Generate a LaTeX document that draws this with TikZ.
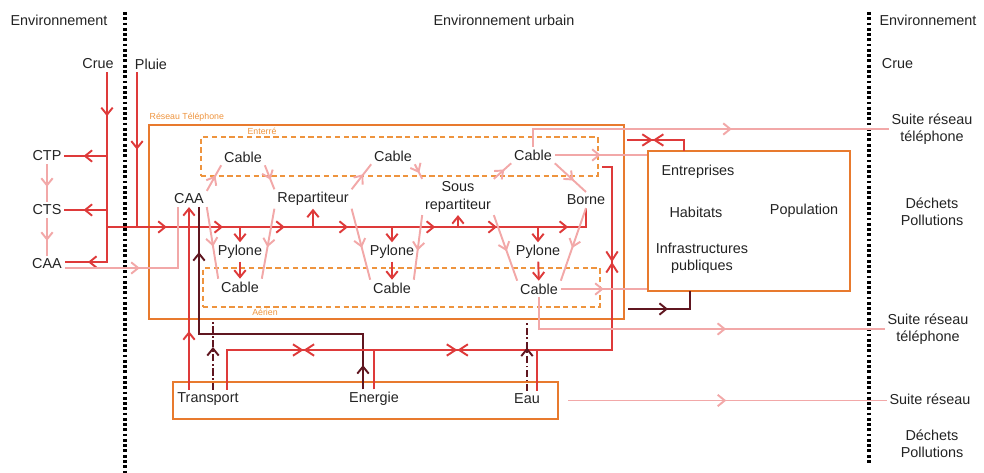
\documentclass[tikz,border=0pt]{standalone}
\usepackage{fontspec}
\setmainfont{Liberation Sans}
\usetikzlibrary{arrows.meta,decorations.markings,fit}
\definecolor{rouge}{RGB}{222,58,58}
\definecolor{rose}{RGB}{242,168,168}
\definecolor{orangebox}{RGB}{232,122,46}
\definecolor{orangedash}{RGB}{238,148,62}
\definecolor{brun}{RGB}{96,22,32}
\definecolor{gristexte}{RGB}{35,35,35}

\begin{document}
\begin{tikzpicture}[
    x=0.02cm, y=-0.02cm,
    txt/.style={font=\fontsize{8.2}{9.8}\selectfont, text=gristexte, inner sep=1.5pt, align=center},
    petit/.style={font=\fontsize{5}{6}\selectfont, text=orangedash, inner sep=1pt},
    boite/.style={draw=orangebox, line width=1.6pt, inner sep=0pt},
    boitetir/.style={draw=orangedash, line width=1.4pt, dash pattern=on 3pt off 2pt, inner sep=0pt},
    lr/.style={draw=rouge, line width=1.1pt},
    lp/.style={draw=rose, line width=1.1pt},
    lb/.style={draw=brun, line width=1.1pt},
    lbd/.style={draw=brun, line width=1.1pt, dash pattern=on 4pt off 1.5pt on 1pt off 1.5pt},
    pointille/.style={line width=1.8pt, dash pattern=on 1.6pt off 1.4pt},
    fl/.style={postaction={decorate, decoration={markings,
        mark=at position #1 with {\arrow{Straight Barb[length=4pt,width=6.5pt]}}}}},
    xx/.style={postaction={decorate, decoration={markings,
        mark=at position #1 with {\arrow{Straight Barb[length=5pt,width=6.5pt]}\arrowreversed{Straight Barb[length=5pt,width=6.5pt]}}}}},
    bout/.style={-{Straight Barb[length=4pt,width=6.5pt]}}
]
\useasboundingbox (0,0) rectangle (984,473);

\node[txt] (envg) at (59,20) {Environnement};
\node[txt] (envu) at (504,20) {Environnement urbain};
\node[txt] (envd) at (928,20) {Environnement};
\draw[pointille] (125,12) -- (125,473);
\draw[pointille] (869,12) -- (869,464);

\node[txt] (crueg) at (98,64) {Crue};
\node[txt] (pluie) at (151,64) {Pluie};
\node[txt, anchor=west] (crued) at (879,64) {Crue};
\node[txt] (ctp) at (47,156) {CTP};
\node[txt] (cts) at (47,210) {CTS};
\node[txt] (caag) at (47,264) {CAA};

\node[boite, fit={(149,125) (624,319)}] (reseautel) {};
\node[boitetir, fit={(201,137) (598,176)}] (enterre) {};
\node[boitetir, fit={(203,268) (600,307)}] (aerien) {};
\node[boite, fit={(648,151) (850,291)}] (popbox) {};
\node[boite, fit={(173,382) (558,419)}] (reseaux) {};
\node[petit, anchor=south west] (lreseau) at (reseautel.north west) {Réseau Téléphone};
\node[petit, above] (lenterre) at (262,137) {Enterré};
\node[petit, below] (laerien) at (265,307) {Aérien};

\node[txt] (caa) at (189,199) {CAA};
\node[txt] (ct1) at (243,157) {Cable};
\node[txt] (ct2) at (393,156) {Cable};
\node[txt] (ct3) at (533,155) {Cable};
\node[txt] (rep) at (313,199) {Repartiteur};
\node[txt] (srep) at (458,197) {Sous\\repartiteur};
\node[txt] (borne) at (586,200) {Borne};
\node[txt] (py1) at (240,252) {Pylone};
\node[txt] (py2) at (392,252) {Pylone};
\node[txt] (py3) at (538,252) {Pylone};
\node[txt] (ca1) at (240,287) {Cable};
\node[txt] (ca2) at (392,288) {Cable};
\node[txt] (ca3) at (539,289) {Cable};

\node[txt] (transport) at (208,399) {Transport};
\node[txt] (energie) at (374,399) {Energie};
\node[txt] (eau) at (527,399) {Eau};

\node[txt] (entreprises) at (698,172) {Entreprises};
\node[txt] (habitats) at (696,212) {Habitats};
\node[txt] (population) at (804,211) {Population};
\node[txt] (infra) at (702,258) {Infrastructures\\publiques};

\node[txt] (suite1) at (932,129) {Suite réseau\\téléphone};
\node[txt] (dechets1) at (932,212) {Déchets\\Pollutions};
\node[txt] (suite2) at (928,329) {Suite réseau\\téléphone};
\node[txt] (suite3) at (930,399) {Suite réseau};
\node[txt] (dechets2) at (932,444) {Déchets\\Pollutions};

\coordinate (k1) at (107,227);
\coordinate (k2) at (137,227);
\coordinate (d1) at (363,334);
\coordinate (d2) at (199,334);
\coordinate (d3) at (628,309);
\coordinate (d4) at (690,291);
\coordinate (r1) at (227,350);
\coordinate (r2) at (612,350);
\coordinate (r3) at (612,167);
\coordinate (r4) at (602,167);
\coordinate (r5) at (537,350);
\coordinate (r6) at (627,140);
\coordinate (r7) at (684,151);
\coordinate (t1) at (213,322);
\coordinate (t2) at (527,322);

\draw[lr, fl=0.19, fl=0.9] (crueg.south -| k1) |- ([yshift=0.04cm]caag.east);
\draw[lr, fl=0.55] (ctp.east -| k1) -- (ctp.east);
\draw[lr, fl=0.55] (cts.east -| k1) -- (cts.east);
\draw[lr, fl=0.5] (k2 |- pluie.south) -- (k2);
\draw[lr, fl=0.12, fl=0.233, fl=0.357, fl=0.484, fl=0.659, fl=0.783, fl=0.926] (k1) -| (borne.south);
\draw[lr, bout] (rep.south |- k1) -- (rep.south);
\draw[lr, bout] (srep.south |- k1) -- (srep.south);
\draw[lr, bout] (py1.north |- k1) -- (py1.north);
\draw[lr, bout] (py2.north |- k1) -- (py2.north);
\draw[lr, bout] (py3.north |- k1) -- (py3.north);
\draw[lr, bout] (py1) -- (ca1);
\draw[lr, bout] (py2) -- (ca2);
\draw[lr, bout] (py3) -- (ca3);

\draw[lp, fl=0.6] (ctp) -- (cts);
\draw[lp, fl=0.6] (cts) -- (caag);
\draw[lp, fl=0.43] ([yshift=-0.08cm]caag.east) -| ([xshift=0.14cm]caa.south west);
\draw[lp, fl=0.6] (caa.north east) -- (ct1.south west);
\draw[lp, fl=0.6] (ct1.south east) -- (rep.north west);
\draw[lp, fl=0.6] (rep.north east) -- (ct2.south west);
\draw[lp, fl=0.6] (ct2.south east) -- (srep.north west);
\draw[lp, fl=0.6] (srep.north east) -- (ct3.south west);
\draw[lp, fl=0.6] (ct3.south east) -- (borne.north);
\draw[lp, fl=0.55] (caa.south east) -- (ca1.north west);
\draw[lp, fl=0.55] (rep.south west) -- (ca1.north east);
\draw[lp, fl=0.55] (rep.south east) -- (ca2.north west);
\draw[lp, fl=0.55] (srep.south west) -- (ca2.north east);
\draw[lp, fl=0.55] (srep.south east) -- (ca3.north west);
\draw[lp, fl=0.55] (borne.south) -- (ca3.north east);

\draw[lr, fl=0.32, bout] (caa.south |- transport.north) -- (caa.south);
\draw[lb, fl=0.07, fl=0.87] (d1 |- energie.north) -- (d1) -- (d2) -- (d2 |- caa.south);
\draw[lr, xx=0.188, xx=0.437, xx=0.83] (r1 |- transport.north) -- (r1) -- (r2) -- (r3) -- (r4);
\draw[lr] (energie.north) -- (energie.north |- r1);
\draw[lr] (r5 |- eau.north) -- (r5);
\draw[lbd, fl=0.63] (t1 |- transport.north) -- (t1);
\draw[lbd, fl=0.63] (eau.north) -- (t2);

\draw[lr, xx=0.38] (r6) -| (r7);
\draw[lb, fl=0.5] (d3) -| (d4);
\draw[lp, fl=0.58] (ct3.north) |- (suite1.west);
\draw[lp, fl=0.5] (ct3.east) -- (ct3.east -| popbox.west);
\draw[lp, fl=0.5] (ca3.east) -- (ca3.east -| popbox.west);
\draw[lp, fl=0.58] (ca3.south) |- (suite2.west);
\draw[lp, fl=0.51, shorten <=5pt] (reseaux.east) -- (reseaux.east -| suite3.west);
\end{tikzpicture}
\end{document}
